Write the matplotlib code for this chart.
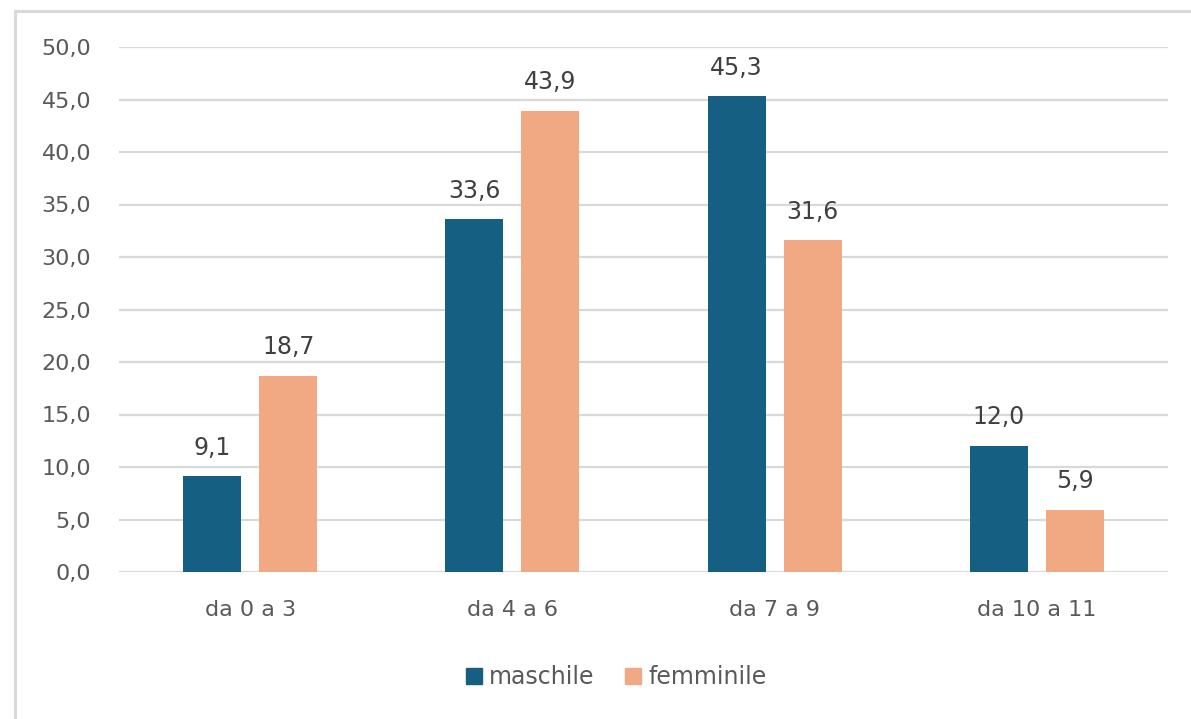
import matplotlib
matplotlib.use("Agg")
import matplotlib.pyplot as plt
import numpy as np
from matplotlib.lines import Line2D
from matplotlib.patches import Patch

categories = ["da 0 a 3", "da 4 a 6", "da 7 a 9", "da 10 a 11"]
maschile = [9.1, 33.6, 45.3, 12.0]
femminile = [18.7, 43.9, 31.6, 5.9]
series_names = ["maschile", "femminile"]
yticks = [0, 5, 10, 15, 20, 25, 30, 35, 40, 45, 50]

plt.rcParams["font.family"] = ["DejaVu Sans"]

blue = "#156082"
salmon = "#F1A983"
text_col = "#595959"
grid_col = "#D9D9D9"

fig = plt.figure(figsize=(11.91, 7.19), dpi=100)
ax = fig.add_axes([119 / 1191, 1 - 572 / 719, (1168 - 119) / 1191, (572 - 47) / 719])

x = np.arange(len(categories))
w = 0.221
off = 0.145
b1 = ax.bar(x - off, maschile, w, color=blue, zorder=3)
b2 = ax.bar(x + off, femminile, w, color=salmon, zorder=3)

fmt = lambda v: f"{v:.1f}".replace(".", ",")
for bars, vals in ((b1, maschile), (b2, femminile)):
    for r, v in zip(bars, vals):
        ax.annotate(fmt(v), (r.get_x() + r.get_width() / 2, v), xytext=(0, 12),
                    textcoords="offset points", ha="center", va="bottom",
                    fontsize=17, color="#404040")

ax.set_xlim(-0.5, len(categories) - 0.5)
ax.set_ylim(0, 50)
ax.set_yticks(yticks)
ax.set_yticklabels([fmt(t) for t in yticks], fontsize=16, color=text_col)
ax.set_xticks(x)
ax.set_xticklabels(categories, fontsize=16, color=text_col)
ax.tick_params(axis="both", length=0)
ax.tick_params(axis="y", pad=20)
ax.tick_params(axis="x", pad=20)
ax.grid(axis="y", color=grid_col, lw=1.6, zorder=0)
for s in ax.spines.values():
    s.set_visible(False)

handles = [Patch(color=blue), Patch(color=salmon)]
fig.legend(handles, series_names, loc="center", bbox_to_anchor=(616 / 1191, 1 - 677 / 719),
           ncol=2, frameon=False, fontsize=17, handlelength=0.68, handleheight=0.68,
           handletextpad=0.3, columnspacing=1.3, labelcolor=text_col)

# outer frame: top and left edges
fig.add_artist(Line2D([15 / 1191, 1], [1 - 11 / 719, 1 - 11 / 719], color="#D9D9D9", lw=2.2,
                      transform=fig.transFigure))
fig.add_artist(Line2D([15 / 1191, 15 / 1191], [0, 1 - 11 / 719], color="#D9D9D9", lw=2.2,
                      transform=fig.transFigure))

fig.savefig("out.png", dpi=100)
